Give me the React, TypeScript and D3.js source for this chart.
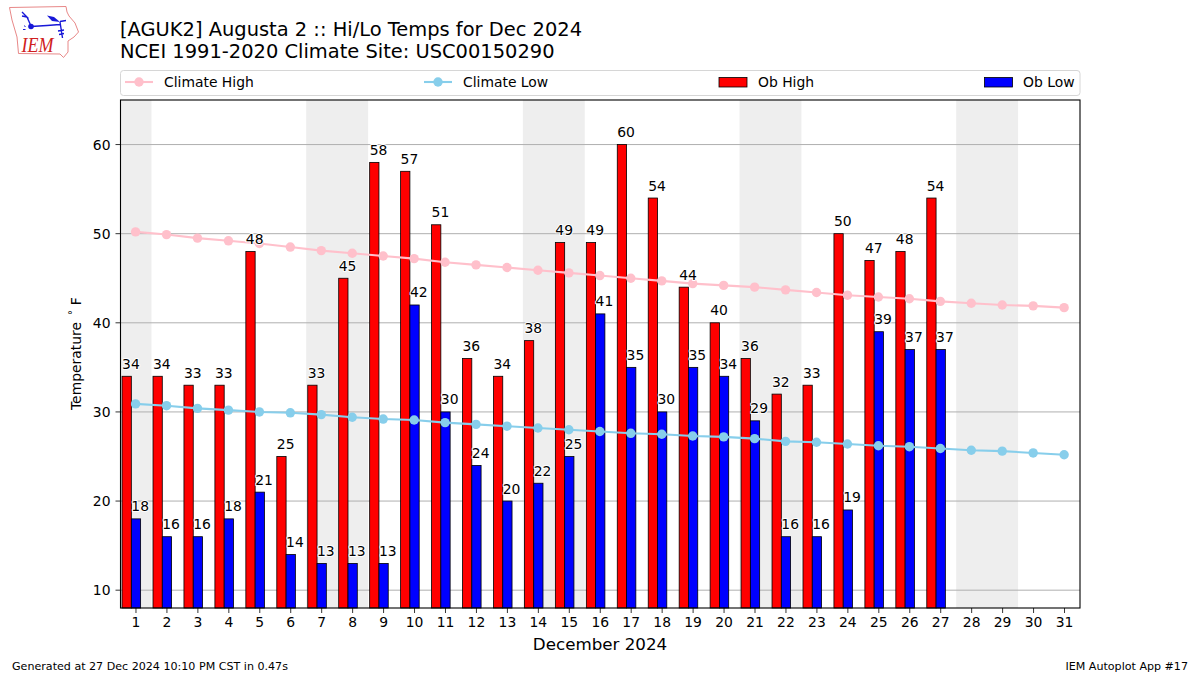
import React from "react";
import * as d3 from "d3";

const days = d3.range(1, 32);
const shadedSpans = [[0.5, 1.5], [6.5, 8.5], [13.5, 15.5], [20.5, 22.5], [27.5, 29.5]];
const climateHigh = [50.2, 49.9, 49.5, 49.2, 48.9, 48.5, 48.1, 47.8, 47.5, 47.2, 46.8, 46.5, 46.2, 45.9, 45.6, 45.3, 45.0, 44.7, 44.4, 44.2, 44.0, 43.7, 43.4, 43.1, 42.9, 42.7, 42.4, 42.2, 42.0, 41.9, 41.7];
const climateLow = [30.9, 30.7, 30.4, 30.2, 30.0, 29.9, 29.7, 29.4, 29.2, 29.1, 28.8, 28.6, 28.4, 28.2, 28.0, 27.8, 27.6, 27.5, 27.3, 27.2, 27.0, 26.7, 26.6, 26.4, 26.2, 26.1, 25.9, 25.7, 25.6, 25.4, 25.2];
const obHigh = [34, 34, 33, 33, 48, 25, 33, 45, 58, 57, 51, 36, 34, 38, 49, 49, 60, 54, 44, 40, 36, 32, 33, 50, 47, 48, 54];
const obLow = [18, 16, 16, 18, 21, 14, 13, 13, 13, 42, 30, 24, 20, 22, 25, 41, 35, 30, 35, 34, 29, 16, 16, 19, 39, 37, 37];
const yTicks = [10, 20, 30, 40, 50, 60];

const FONT = "'DejaVu Sans', sans-serif";
const L = 120.5, R = 1080, T = 100, B = 608;
const x = d3.scaleLinear().domain([0.5, 31.5]).range([L, R]);
const y = d3.scaleLinear().domain([8, 65]).range([B, T]);
const barW = 0.3;

function Series({ values, color }: { values: number[]; color: string }) {
  const line = d3.line<number>().x((_, i) => x(days[i]) - 0.4).y((v) => y(v));
  return (
    <g>
      <path d={line(values) || ""} fill="none" stroke={color} strokeWidth={2.1} />
      {values.map((v, i) => <circle key={i} cx={x(days[i]) - 0.4} cy={y(v)} r={4.7} fill={color} />)}
    </g>
  );
}

function Bars({ values, color, offset }: { values: number[]; color: string; offset: number }) {
  return (
    <g>
      {values.map((v, i) => (
        <rect key={i} x={x(days[i] + offset)} width={x(days[i] + offset + barW) - x(days[i] + offset)}
          y={y(v)} height={B - y(v)} fill={color} stroke="#000" strokeWidth={0.8} />
      ))}
    </g>
  );
}

function Labels({ values, offset }: { values: number[]; offset: number }) {
  return (
    <g>
      {values.map((v, i) => (
        <text key={i} x={x(days[i] + offset)} y={y(v) - 7.5} fontSize={13.9} fill="#000"
          stroke="#fff" strokeWidth={2} paintOrder="stroke" strokeLinejoin="round">{v}</text>
      ))}
    </g>
  );
}

function Logo() {
  return (
    <g>
      <path d="M9.5 7.5 L66 6.5 L67 12 L69 16 L75 23 L78.5 32 L74 37 L68 41 L68 52 L63.5 57.5 L60 54 L18.5 53.5 L17 37 L12 20 Z"
        fill="#fff" stroke="#e88888" strokeWidth={1} />
      <g stroke="#1818d8" fill="none" strokeWidth={1.4}>
        <path d="M31 26.5 L47 25.5 L60 24.5 M60 21.5 L66 20.5 M27 17 L31 26 M22 12 L27 17 L22 16 M60 22 L62.5 38 M58 31 L64 30 M59 34.5 L64 33.5" />
      </g>
      <circle cx={31} cy={26.5} r={2.8} fill="#1818d8" />
      <path d="M47 15.5 L54 17 L60 22 L52 21 Z" fill="#1818d8" />
      <path d="M23 29.5 l2.5 0 M24.5 25.5 l0.8 1.5" stroke="#1818d8" strokeWidth={1} fill="none" />
      <text x={21.5} y={51.5} fontFamily="'Liberation Serif', serif" fontStyle="italic" fontSize={21}
        fill="#d02020" textLength={32} lengthAdjust="spacingAndGlyphs">IEM</text>
    </g>
  );
}

export default function App() {
  const legendY = 82;
  return (
    <svg width={1200} height={675} viewBox="0 0 1200 675"
      style={{ position: "absolute", left: 0, top: 0, display: "block", background: "#fff" }} fontFamily={FONT}>
      <Logo />
      <text x={120} y={35.5} fontSize={19.45}>[AGUK2] Augusta 2 :: Hi/Lo Temps for Dec 2024</text>
      <text x={120} y={57.5} fontSize={19.45}>NCEI 1991-2020 Climate Site: USC00150290</text>

      <rect x={120.5} y={70.5} width={959.5} height={25} rx={3} fill="#fff" stroke="#d6d6d6" strokeWidth={1} />
      <g fontSize={13.9}>
        <line x1={125} x2={153} y1={legendY} y2={legendY} stroke="pink" strokeWidth={2.1} />
        <circle cx={139} cy={legendY} r={4.7} fill="pink" />
        <text x={164} y={legendY + 4.5}>Climate High</text>
        <line x1={424} x2={452} y1={legendY} y2={legendY} stroke="skyblue" strokeWidth={2.1} />
        <circle cx={438} cy={legendY} r={4.7} fill="skyblue" />
        <text x={463} y={legendY + 4.5}>Climate Low</text>
        <rect x={719} y={77.5} width={28} height={9.5} fill="red" stroke="#000" strokeWidth={0.8} />
        <text x={758} y={legendY + 4.5}>Ob High</text>
        <rect x={984.5} y={77.5} width={28} height={9.5} fill="blue" stroke="#000" strokeWidth={0.8} />
        <text x={1023} y={legendY + 4.5}>Ob Low</text>
      </g>

      {shadedSpans.map(([a, b]) => (
        <rect key={a} x={x(a)} y={T} width={x(b) - x(a)} height={B - T} fill="#eeeeee" />
      ))}
      {yTicks.map((t) => (
        <line key={t} x1={L} x2={R} y1={y(t)} y2={y(t)} stroke="#b0b0b0" strokeWidth={1} />
      ))}
      <Bars values={obHigh} color="red" offset={-0.45} />
      <Bars values={obLow} color="blue" offset={-0.15} />
      <Series values={climateHigh} color="pink" />
      <Series values={climateLow} color="skyblue" />
      <Labels values={obHigh} offset={-0.45} />
      <Labels values={obLow} offset={-0.15} />
      <rect x={L} y={T} width={R - L} height={B - T} fill="none" stroke="#000" strokeWidth={1.1} />

      {days.map((d) => (
        <g key={d}>
          <line x1={x(d)} x2={x(d)} y1={B} y2={B + 5} stroke="#000" strokeWidth={0.8} />
          <text x={x(d)} y={B + 19} textAnchor="middle" fontSize={13.9}>{d}</text>
        </g>
      ))}
      {yTicks.map((t) => (
        <g key={t}>
          <line x1={L - 5} x2={L} y1={y(t)} y2={y(t)} stroke="#000" strokeWidth={0.8} />
          <text x={L - 10} y={y(t) + 5} textAnchor="end" fontSize={13.9}>{t}</text>
        </g>
      ))}
      <text x={600} y={649.5} textAnchor="middle" fontSize={16.7}>December 2024</text>
      <text transform="translate(80.5,410) rotate(-90)" fontSize={13.9}>
        Temperature<tspan dx={7} dy={-5} fontSize={9.7}>°</tspan><tspan dx={5} dy={5}>F</tspan>
      </text>
      <text x={12} y={670} fontSize={11.1}>Generated at 27 Dec 2024 10:10 PM CST in 0.47s</text>
      <text x={1188} y={670} textAnchor="end" fontSize={11.1}>IEM Autoplot App #17</text>
    </svg>
  );
}
